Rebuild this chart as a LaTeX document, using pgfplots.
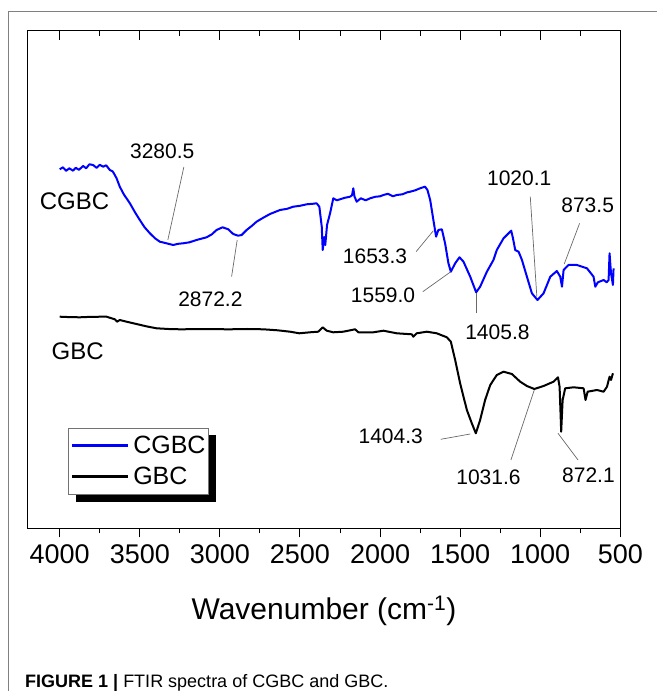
\documentclass[border=0pt]{standalone}
\usepackage{fontspec}
\setmainfont{Liberation Sans}
\usepackage{pgfplots}
\usepackage{pgfplotstable}
\pgfplotsset{compat=1.18}
\usetikzlibrary{backgrounds}

\definecolor{cgbc}{RGB}{0,0,255}
\definecolor{leader}{RGB}{105,105,105}
\definecolor{frame}{RGB}{128,128,128}
\newcommand{\fs}[1]{\fontsize{#1}{#1}\selectfont}

% wavenumber (cm^-1) vs. transmittance (arbitrary, offset traces)
\pgfplotstableread{
wn T
4000 359.0
3980 361.0
3960 357.5
3940 360.0
3917 357.6
3900 360.5
3880 358.5
3854 362.3
3835 360.0
3815 364.0
3792 363.3
3770 360.5
3750 363.5
3729 361.6
3710 363.0
3687 358.3
3670 357.0
3662 355.0
3645 350.0
3625 341.6
3600 334.0
3562 325.0
3530 316.0
3500 308.3
3470 301.0
3437 295.0
3405 290.0
3375 286.6
3333 285.0
3292 283.3
3260 284.5
3229 285.0
3190 286.0
3146 288.3
3083 291.0
3050 294.0
3021 298.3
2983 301.0
2948 299.0
2917 294.3
2886 292.6
2864 293.3
2833 298.3
2800 302.5
2771 306.6
2730 310.5
2687 314.3
2625 318.3
2580 319.5
2542 321.6
2500 322.5
2458 324.0
2420 324.5
2396 325.0
2379 321.6
2364 301.6
2358 278.3
2348 291.3
2342 283.3
2331 303.3
2312 315.0
2292 330.0
2270 328.0
2250 329.0
2220 330.5
2187 331.6
2175 333.0
2167 340.0
2160 332.0
2146 326.6
2120 330.0
2090 328.0
2062 330.0
2030 331.5
2000 332.0
1979 333.3
1950 334.5
1920 332.0
1896 333.3
1860 334.0
1830 336.0
1812 336.6
1780 338.0
1750 340.0
1719 341.6
1704 338.3
1687 328.3
1667 308.3
1650 291.6
1636 298.3
1614 299.0
1594 285.0
1573 265.0
1558 256.6
1531 265.0
1504 271.0
1479 266.6
1437 251.6
1400 236.0
1375 241.6
1333 256.6
1292 268.3
1271 278.3
1229 290.0
1181 297.6
1170 290.0
1156 278.3
1135 276.6
1114 268.3
1083 251.6
1052 235.0
1017 228.3
979 235.0
937 251.6
896 257.3
875 251.6
864 241.6
854 258.3
823 263.3
771 263.3
708 260.0
667 251.6
656 241.6
640 246.0
604 248.3
585 246.0
573 248.3
567 275.0
558 255.0
546 243.3
542 260.0
}\cgbcdata

\pgfplotstableread{
wn T
4000 211.6
3940 211.2
3875 211.0
3800 211.5
3708 211.6
3656 209.0
3642 206.6
3625 208.3
3580 206.5
3521 204.3
3460 202.0
3396 200.0
3320 199.3
3250 199.0
3100 199.2
2937 199.0
2830 199.3
2729 199.0
2640 198.0
2562 196.6
2504 195.0
2437 196.0
2386 196.6
2358 201.0
2333 197.6
2292 196.0
2229 196.6
2156 199.0
2135 196.0
2042 196.0
1979 197.6
1896 195.0
1802 194.0
1792 191.6
1771 195.0
1708 196.6
1646 195.0
1583 191.0
1558 186.6
1531 168.3
1500 145.0
1458 118.3
1427 105.0
1402 95.0
1375 108.3
1344 128.3
1312 143.3
1271 153.3
1229 156.6
1177 154.3
1125 146.6
1083 142.3
1037 139.3
979 142.3
917 146.6
889 151.0
879 141.6
869 96.6
860 128.3
844 140.0
792 141.0
729 140.0
717 128.3
704 136.6
646 138.3
604 136.6
583 141.6
567 151.6
558 148.3
546 155.0
}\gbcdata

\begin{document}
\begin{tikzpicture}
\useasboundingbox (0,0) rectangle (657pt,691pt);
\draw[frame, line width=1pt] (8pt,0pt) -- (8pt,679pt) -- (657pt,679pt);

\pgfplotsset{ftir/.style={
  scale only axis, width=592.6pt, height=497.6pt,
  at={(27.7pt,162.7pt)}, anchor=south west,
  x dir=reverse, xmin=500, xmax=4200, ymin=0, ymax=497.6,
  xtick={500,1000,...,4000}, minor x tick num=1,
  ytick=\empty,
  axis line style={line width=1.2pt},
  major tick length=9pt, minor tick length=5pt,
  tick style={black, line width=1pt},
}}

% top ticks point inward
\begin{axis}[ftir, xtick pos=right, tick align=inside, xticklabels={}]
\end{axis}

\begin{axis}[ftir, xtick pos=left, tick align=outside,
  /pgf/number format/assume math mode=true,
  /pgf/number format/set thousands separator={},
  xticklabel style={font=\fs{27}, yshift=-4pt},
  xlabel={Wavenumber (cm\textsuperscript{-1})},
  xlabel style={font=\fs{30}, at={(axis description cs:0.5,-0.1829)}, anchor=base, inner sep=0pt},
  legend cell align=left,
  legend style={name=lgd, at={(0.0685,0.2022)}, anchor=north west, draw=black!55, line width=0.8pt,
    fill=white, font=\fs{25}, inner xsep=2pt, inner ysep=7pt, row sep=10pt, column sep=3pt,
    nodes={inner sep=1pt}},
  legend image code/.code={\draw[#1, line width=2.6pt] (0pt,0pt) -- (56pt,0pt);},
]
\addplot[cgbc, line width=2pt, line join=round] table[x=wn, y=T] {\cgbcdata};
\addlegendentry{CGBC}
\addplot[black, line width=2pt, line join=round] table[x=wn, y=T] {\gbcdata};
\addlegendentry{GBC}

% trace names
\node[anchor=base west, inner sep=0pt, font=\fs{24}] at (axis cs:4125,318.3) {CGBC};
\node[anchor=base west, inner sep=0pt, font=\fs{24}] at (axis cs:4052,169) {GBC};

% peak labels
\begin{scope}[every node/.style={anchor=base west, inner sep=0pt, font=\fs{21}}]
\node at (axis cs:3562,369.3) {3280.5};
\node at (axis cs:3261,221.6) {2872.2};
\node at (axis cs:2233,264.3) {1653.3};
\node at (axis cs:2183,225.6) {1559.0};
\node at (axis cs:1469,189) {1405.8};
\node at (axis cs:1333,342.6) {1020.1};
\node at (axis cs:869,315.6) {873.5};
\node at (axis cs:2135,85) {1404.3};
\node at (axis cs:1525,43.3) {1031.6};
\node at (axis cs:864,45.6) {872.1};
\end{scope}
\begin{scope}[leader, line width=0.7pt]
\draw (axis cs:3225,361.3) -- (axis cs:3325,288.3);
\draw (axis cs:2927,251.6) -- (axis cs:2892,288.3);
\draw (axis cs:1775,276.6) -- (axis cs:1667,297.6);
\draw (axis cs:1733,236.6) -- (axis cs:1558,256.6);
\draw (axis cs:1396,215) -- (axis cs:1396,235);
\draw (axis cs:1062,331.6) -- (axis cs:1021,231.6);
\draw (axis cs:754,305) -- (axis cs:850,264.3);
\draw (axis cs:1621,89) -- (axis cs:1437,94.3);
\draw (axis cs:1183,68.3) -- (axis cs:1037,138.3);
\draw (axis cs:764,68.3) -- (axis cs:889,95);
\end{scope}
\end{axis}

% legend drop shadow
\begin{scope}[on background layer]
\fill[black] ([shift={(7.5pt,-7.5pt)}]lgd.south west) rectangle ([shift={(7.5pt,-7.5pt)}]lgd.north east);
\end{scope}

\node[anchor=base west, inner sep=0pt, font=\fs{18}] at (25pt,3pt)
  {\textbf{FIGURE 1 |} FTIR spectra of CGBC and GBC.};
\end{tikzpicture}
\end{document}
